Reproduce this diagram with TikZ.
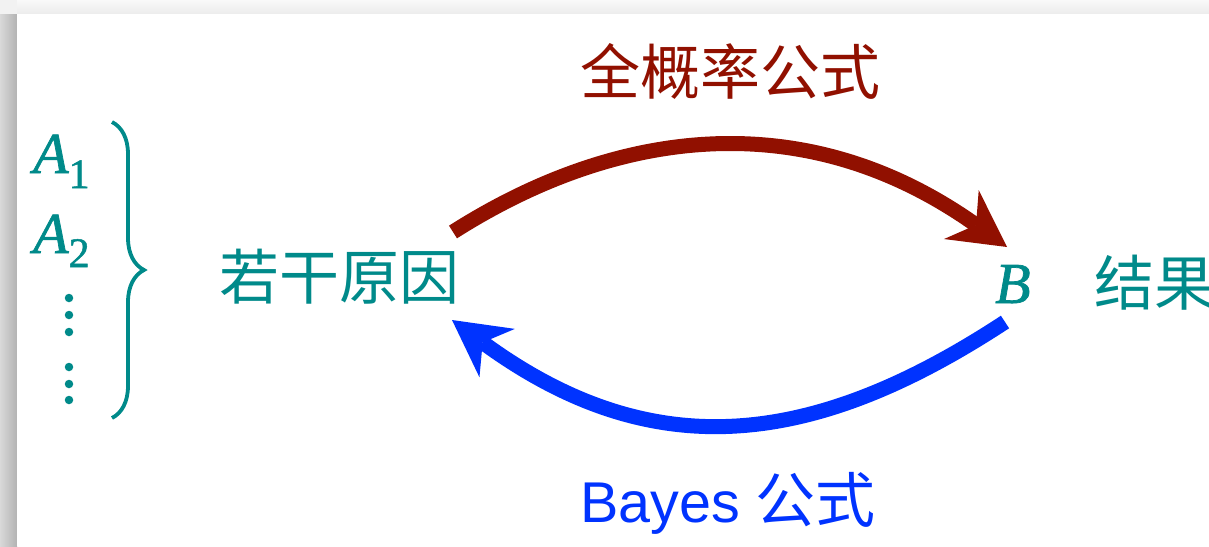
\documentclass[tikz,border=0pt]{standalone}
\usepackage{fontspec}
\setmainfont{Liberation Serif}
\newfontfamily\cjk{Noto Sans CJK SC}
\newfontfamily\sansfam{Liberation Sans}
\newfontfamily\mathfam[FakeBold=1.2]{Liberation Serif}
\usetikzlibrary{arrows.meta,decorations.pathreplacing}
\definecolor{tealtxt}{RGB}{0,138,138}
\definecolor{darkred}{RGB}{145,16,0}
\definecolor{brightblue}{RGB}{0,51,255}
\begin{document}
\begin{tikzpicture}[x=1pt,y=-1pt,
  cjktext/.style={inner sep=0pt, anchor=base west, font=\cjk\fontsize{60}{72}\selectfont},
  mathtext/.style={inner sep=0pt, anchor=base west, text=tealtxt, font=\mathfam\fontsize{58}{68}\selectfont\itshape},
  bigarrow/.style={line width=15pt, -{Stealth[length=56pt,width=60pt,inset=18pt,line width=0pt]}},
  smalldot/.style={circle, fill=tealtxt, inner sep=0pt, minimum size=8.5pt}
]
\useasboundingbox (0,0) rectangle (1209,546);
\fill[gray!10] (0,0) rectangle (1209,546);
\shade[left color=gray!30, right color=gray!60] (0,14) rectangle (17,546);
\shade[top color=gray!5, bottom color=gray!15] (17,0) rectangle (1209,14);
\fill[white] (17,14) rectangle (1209,546);

% causes
\node[mathtext] (a1) at (33,173) {A\raisebox{-15pt}{\upshape\fontsize{42}{42}\selectfont 1}};
\node[mathtext] (a2) at (33,253) {A\raisebox{-14pt}{\upshape\fontsize{42}{42}\selectfont 2}};
\node[smalldot] (d1) at (69,298) {};
\node[smalldot] (d2) at (69,315) {};
\node[smalldot] (d3) at (69,332) {};
\node[smalldot] (d4) at (69,367) {};
\node[smalldot] (d5) at (69,384) {};
\node[smalldot] (d6) at (69,400) {};
\draw[tealtxt, line width=3.8pt, decorate, decoration={brace, amplitude=32pt}] (112,122) -- (112,418);

\node[cjktext, text=tealtxt] (cause) at (219,299) {若干原因};
\node[mathtext] (b) at (995,303) {B};
\node[cjktext, text=tealtxt] (result) at (1094,305) {结果};
\node[cjktext, text=darkred] (total) at (580,94) {全概率公式};
\node[inner sep=0pt, anchor=base west, text=brightblue] (bayes) at (580,522)
  {\sansfam\fontsize{57.5}{68}\selectfont Bayes {\cjk\fontsize{60}{72}\selectfont 公式}};

% arrows
\coordinate (r0) at (453,232);
\coordinate (r1) at (1007,247);
\coordinate (b0) at (1005,322);
\coordinate (b1) at (452,320);
\draw[bigarrow, darkred] (r0) .. controls (610,132) and (800,100) .. (r1);
\draw[bigarrow, brightblue] (b0) .. controls (810,450) and (650,465) .. (b1);
\end{tikzpicture}
\end{document}
